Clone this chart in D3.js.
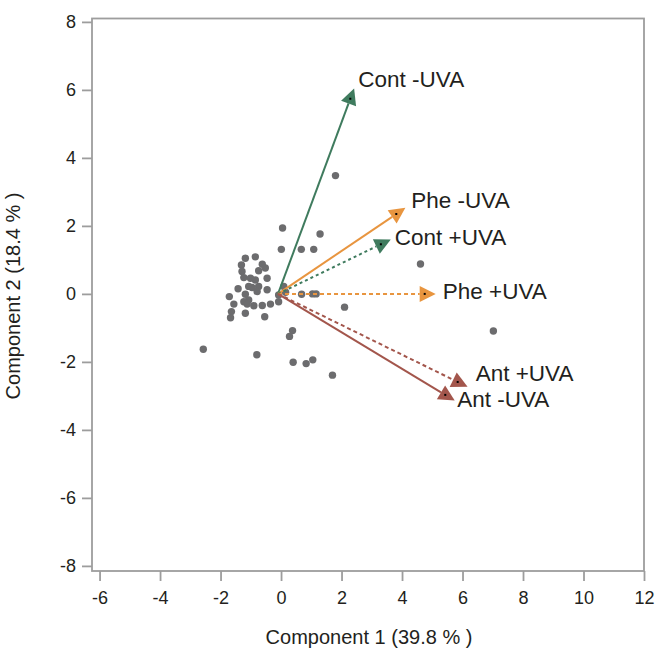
<!DOCTYPE html>
<html>
<head>
<meta charset="utf-8">
<style>
body, html {
	width: 100%;
	height: 100%;
	margin: 0;
	background: #fff;
}
svg text {
	font-family: "Liberation Sans", Arial, Helvetica, sans-serif;
	fill: #231f20;
}
</style>
</head>
<body>
<div id="chartContainer"></div>

<script src="https://cdn.jsdelivr.net/npm/d3@7"></script>
<script>

// sample scores (component 1, component 2)
const pointX = [1.80, 0.05, 1.29, 0.01, 0.67, 1.08, 4.61, 0.68, 1.04, 1.16, 2.10, 7.02, 0.38, 0.28, -2.57, -0.80, 0.40, 0.83, 1.05, 1.70,
	-1.18, -0.85, -1.31, -0.62, -0.52, -1.29, -0.74, -1.23, -1.01, -0.85, -0.46, -1.42, -1.07, -0.96, -0.74, -0.79, -0.46, 0.09,
	-1.71, -1.18, -1.07, -0.08, -1.56, -1.23, -1.12, -0.90, -0.62, -0.35, -0.08, -1.64, -1.18, -1.67, -0.54, 0.15];
const pointY = [3.48, 1.94, 1.76, 1.31, 1.31, 1.31, 0.88, -0.01, 0.00, 0.00, -0.39, -1.09, -1.08, -1.25, -1.63, -1.79, -2.01, -2.05, -1.94, -2.39,
	1.05, 1.09, 0.85, 0.87, 0.76, 0.66, 0.68, 0.48, 0.46, 0.41, 0.46, 0.15, 0.22, 0.19, 0.22, 0.07, 0.12, 0.22,
	-0.08, -0.01, -0.18, -0.03, -0.30, -0.23, -0.30, -0.35, -0.34, -0.30, -0.23, -0.52, -0.57, -0.70, -0.67, 0.05];

// loading vectors
const loadingNames = ["Cont -UVA", "Phe -UVA", "Cont +UVA", "Phe +UVA", "Ant +UVA", "Ant -UVA"];
const loadingX = [2.29, 3.81, 3.30, 4.75, 5.84, 5.43];
const loadingY = [5.74, 2.35, 1.46, 0.00, -2.59, -2.97];
const loadingOrigin = [-0.1, 0];

const xTicks = [-6, -4, -2, 0, 2, 4, 6, 8, 10, 12];
const yTicks = [-8, -6, -4, -2, 0, 2, 4, 6, 8];
const xTitle = "Component 1  (39.8 % )";
const yTitle = "Component 2  (18.4 % )";

const WIDTH = 656;
const HEIGHT = 648;
const PLOT_LEFT = 92;
const PLOT_RIGHT = 644;
const PLOT_TOP = 18.5;
const PLOT_BOTTOM = 571;

const FRAME_COLOR = '#9d9d9d';
const POINT_COLOR = '#6c6c6e';
const POINT_RADIUS = 3.7;
const GREEN = '#3f7b5e';
const ORANGE = '#e8953f';
const BROWN = '#a3564c';

const ARROW_TIP = 11;
const ARROW_BACK = 5;
const ARROW_HALF = 8;

// styles by loading name
const loadingStyle = {
	"Cont -UVA": { color: GREEN, dash: null, dx: 8, dy: -12 },
	"Phe -UVA": { color: ORANGE, dash: null, dx: 15, dy: -6 },
	"Cont +UVA": { color: GREEN, dash: "3,3", dx: 14, dy: 1 },
	"Phe +UVA": { color: ORANGE, dash: "4,3", dx: 18, dy: 5 },
	"Ant +UVA": { color: BROWN, dash: "4,3", dx: 18, dy: -1 },
	"Ant -UVA": { color: BROWN, dash: null, dx: 12, dy: 12 }
};

var svg = d3.select("#chartContainer").append("svg")
	.attr("width", WIDTH)
	.attr("height", HEIGHT);

var x = d3.scaleLinear().domain([-6.25, 12]).range([PLOT_LEFT, PLOT_RIGHT]);
var y = d3.scaleLinear().domain([-8.15, 8.1]).range([PLOT_BOTTOM, PLOT_TOP]);

// axes
var xAxis = svg.append("g")
	.attr("transform", `translate(0,${PLOT_BOTTOM})`)
	.call(d3.axisBottom(x).tickValues(xTicks).tickSize(10).tickPadding(10).tickFormat((d) => String(d)));
var yAxis = svg.append("g")
	.attr("transform", `translate(${PLOT_LEFT},0)`)
	.call(d3.axisLeft(y).tickValues(yTicks).tickSize(10).tickPadding(6).tickFormat((d) => String(d)));

[xAxis, yAxis].forEach(function(ax) {
	ax.select(".domain").remove();
	ax.selectAll(".tick line").attr("stroke", FRAME_COLOR).attr("stroke-width", 1.8);
	ax.selectAll(".tick text")
		.attr("fill", "#231f20")
		.style("font-size", "18px")
		.style("font-family", "'Liberation Sans', Arial, sans-serif");
});

svg.append("rect")
	.attr("x", PLOT_LEFT)
	.attr("y", PLOT_TOP)
	.attr("width", PLOT_RIGHT - PLOT_LEFT)
	.attr("height", PLOT_BOTTOM - PLOT_TOP)
	.attr("fill", "none")
	.attr("stroke", FRAME_COLOR)
	.attr("stroke-width", 1.8);

svg.append("text")
	.attr("x", 369)
	.attr("y", 644)
	.attr("text-anchor", "middle")
	.style("font-size", "20px")
	.text(xTitle);

svg.append("text")
	.attr("transform", "translate(20,296) rotate(-90)")
	.attr("text-anchor", "middle")
	.style("font-size", "20px")
	.text(yTitle);

// points
svg.append("g").attr("class", "points")
	.selectAll("circle")
	.data(d3.range(pointX.length))
	.enter().append("circle")
		.attr("cx", (i) => x(pointX[i]))
		.attr("cy", (i) => y(pointY[i]))
		.attr("r", POINT_RADIUS)
		.attr("fill", POINT_COLOR);

// loading arrows
var loadings = loadingNames.map(function(name, i) {
	const ox = x(loadingOrigin[0]), oy = y(loadingOrigin[1]);
	const ex = x(loadingX[i]), ey = y(loadingY[i]);
	const len = Math.hypot(ex - ox, ey - oy);
	const ux = (ex - ox) / len, uy = (ey - oy) / len;
	return { name: name, ox: ox, oy: oy, ex: ex, ey: ey, ux: ux, uy: uy, style: loadingStyle[name] };
});

var arrows = svg.append("g").attr("class", "loadings")
	.selectAll(".loading")
	.data(loadings)
	.enter().append("g")
		.attr("class", "loading");

arrows.append("line")
	.attr("x1", (d) => d.ox)
	.attr("y1", (d) => d.oy)
	.attr("x2", (d) => d.ex - d.ux * ARROW_BACK)
	.attr("y2", (d) => d.ey - d.uy * ARROW_BACK)
	.attr("stroke", (d) => d.style.color)
	.attr("stroke-width", 2)
	.attr("stroke-dasharray", (d) => d.style.dash);

arrows.append("path")
	.attr("fill", (d) => d.style.color)
	.attr("d", function(d) {
		const tx = d.ex + d.ux * ARROW_TIP, ty = d.ey + d.uy * ARROW_TIP;
		const bx = d.ex - d.ux * ARROW_BACK, by = d.ey - d.uy * ARROW_BACK;
		const px = -d.uy * ARROW_HALF, py = d.ux * ARROW_HALF;
		return `M${tx},${ty}L${bx + px},${by + py}L${bx - px},${by - py}Z`;
	});

arrows.append("rect")
	.attr("x", (d) => d.ex - 1)
	.attr("y", (d) => d.ey - 1)
	.attr("width", 2)
	.attr("height", 2)
	.attr("fill", "#000");

arrows.append("text")
	.attr("x", (d) => d.ex + d.style.dx)
	.attr("y", (d) => d.ey + d.style.dy)
	.style("font-size", "22.5px")
	.text((d) => d.name);

</script>
</body>
</html>
